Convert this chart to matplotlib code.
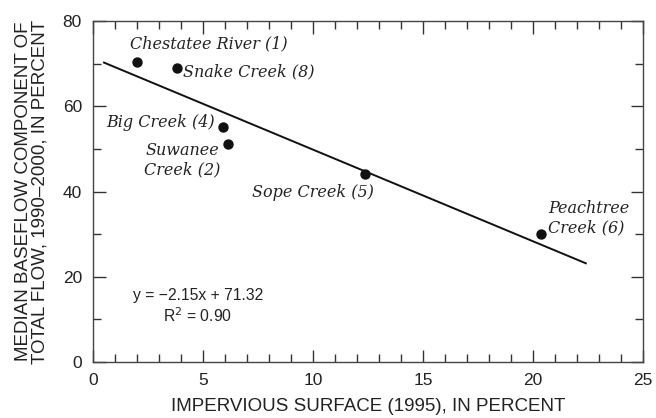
import matplotlib.pyplot as plt
import numpy as np
from matplotlib.ticker import MultipleLocator

impervious = [2.0, 3.8, 5.9, 6.15, 12.36, 20.36]
baseflow = [70.4, 69.0, 55.2, 51.2, 44.1, 30.0]
labels = ["Chestatee River (1)", "Snake Creek (8)", "Big Creek (4)",
          "Suwanee\nCreek (2)", "Sope Creek (5)", "Peachtree\nCreek (6)"]
label_pos = [(1.7, 74.6, "left"), (4.1, 68.1, "left"), (5.55, 56.1, "right"),
             (4.05, 47.4, "center"), (7.25, 39.7, "left"), (20.7, 33.8, "left")]
slope, intercept = -2.15, 71.32
fit_x = np.array([0.5, 22.4])

plt.rcParams['font.family'] = ['Liberation Sans', 'DejaVu Sans']

fig = plt.figure(figsize=(6.56, 4.18), dpi=100)
ax = fig.add_axes([93 / 656, 56 / 418, 550 / 656, 341 / 418])

ax.plot(fit_x, slope * fit_x + intercept, color="#111111", lw=1.4)
ax.scatter(impervious, baseflow, s=42, color="#111111", zorder=3)

for text, (tx, ty, ha) in zip(labels, label_pos):
    ax.text(tx, ty, text, ha=ha, va="center", fontsize=11.5,
            family="DejaVu Serif", style="italic", color="#222222",
            linespacing=1.15)

ax.text(4.76, 15.5, "y = \u22122.15x + 71.32", ha="center", va="center",
        fontsize=11.3, color="#222222")
ax.text(4.76, 10.8, "R$^2$ = 0.90", ha="center", va="center",
        fontsize=11.3, color="#222222")

ax.set_xlim(0, 25)
ax.set_ylim(0, 80)
ax.xaxis.set_major_locator(MultipleLocator(5))
ax.xaxis.set_minor_locator(MultipleLocator(1))
ax.yaxis.set_major_locator(MultipleLocator(20))
ax.yaxis.set_minor_locator(MultipleLocator(10))
ax.tick_params(which="both", direction="in", top=True, right=True,
               color="#333333", labelsize=12.5, labelcolor="#222222")
ax.tick_params(which="major", length=9, width=1)
ax.tick_params(which="minor", length=6, width=1)
ax.tick_params(axis="x", which="major", pad=8)
ax.tick_params(axis="y", which="major", pad=8)
for s in ax.spines.values():
    s.set_color("#444444")
    s.set_linewidth(1)

ax.set_xlabel("IMPERVIOUS SURFACE (1995), IN PERCENT", fontsize=13.5,
              color="#222222", labelpad=7)
ax.set_ylabel("MEDIAN BASEFLOW COMPONENT OF\nTOTAL FLOW, 1990\u20132000, IN PERCENT",
              fontsize=13.5, color="#222222", labelpad=10, linespacing=1.0)

fig.savefig("out.png", dpi=100)
